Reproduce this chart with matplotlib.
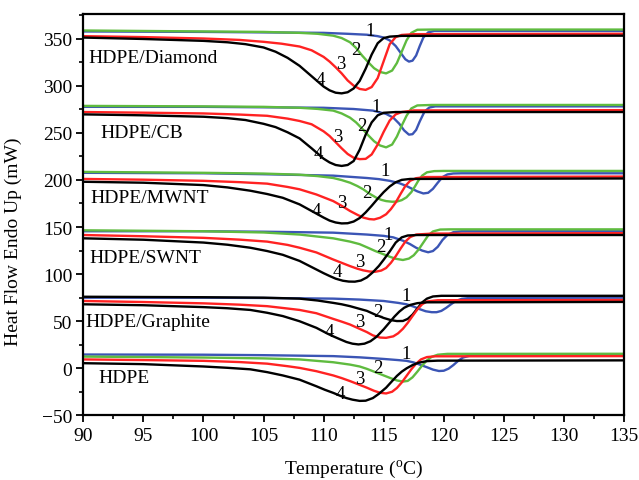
import matplotlib
matplotlib.use("Agg")
import matplotlib.pyplot as plt
from matplotlib.ticker import MultipleLocator

plt.rcParams['font.family'] = ['Liberation Serif', 'DejaVu Serif']
plt.rcParams['mathtext.fontset'] = 'custom'
plt.rcParams['mathtext.rm'] = 'Liberation Serif'

# DSC cooling scans, curves 1-4 for each sample (T in C, heat flow in mW)
dia1_t = [90, 100, 110, 112, 113.6, 114.5, 115, 115.5, 116, 116.4, 116.8, 117.1, 117.4, 117.7, 118, 118.3, 118.7, 119.2, 135]
dia1_y = [357.5, 357, 356, 355, 354, 352.5, 351, 348, 342, 335, 328, 325.5, 326.5, 332, 342, 351, 356.5, 358, 358]
dia2_t = [90, 100, 105, 108, 109.5, 110.8, 111.5, 112.2, 112.7, 113.2, 113.7, 114.2, 114.7, 115.2, 115.7, 116.1, 116.5, 116.9, 117.3, 117.8, 119, 135]
dia2_y = [358.5, 357.5, 357, 356, 355, 353, 350.5, 346, 340, 332, 325, 318.5, 314.5, 313, 316, 324, 336, 348, 356, 359.3, 359.5, 359.5]
dia3_t = [90, 95, 100, 103, 105, 106.5, 108, 109, 110, 110.5, 111, 111.5, 112, 112.5, 113, 113.5, 114, 114.5, 115, 115.5, 116, 116.5, 117.5, 135]
dia3_y = [352.5, 351.5, 350, 348.5, 346.5, 344.5, 341.5, 337.5, 330.5, 325.5, 319.5, 313, 305.5, 300, 296.5, 295.5, 298.5, 308, 326, 344, 351.5, 353.8, 354.6, 355]
dia4_t = [90, 95, 100, 102, 103.5, 105, 106, 107, 108, 109, 110, 110.5, 111, 111.5, 112, 112.5, 113, 113.5, 114, 114.5, 115, 115.5, 116.5, 135]
dia4_y = [351, 349.5, 347.5, 346, 344, 340.5, 336, 329.5, 321, 310, 299, 295, 292.5, 291.8, 293, 297, 305, 318, 333, 345, 350.5, 352, 352.8, 353]

cb1_t = [90, 100, 110, 112.5, 114.1, 115.2, 115.8, 116.3, 116.7, 117.1, 117.4, 117.7, 118, 118.4, 118.8, 119.3, 135]
cb1_y = [277.5, 277.5, 276.5, 275.2, 273.5, 270, 266, 259.5, 252.5, 248, 248.5, 253, 262, 272.5, 276.8, 278, 278]
cb2_t = [90, 100, 105, 108, 109.5, 110.8, 111.5, 112.2, 112.7, 113.2, 113.7, 114.2, 114.7, 115.2, 115.7, 116.1, 116.5, 116.9, 117.3, 117.8, 119, 135]
cb2_y = [278.5, 278, 277.5, 276.5, 275.3, 273.5, 270.5, 266, 261, 254.5, 247.5, 241, 236.5, 234.5, 237.5, 246, 257.5, 268, 275.8, 279, 279.5, 279.5]
cb3_t = [90, 95, 100, 103, 105.3, 107, 108, 109, 110, 110.5, 111, 111.5, 112, 112.5, 113, 113.5, 114, 114.5, 115, 115.5, 116, 116.5, 117.5, 135]
cb3_y = [272, 271.3, 270.5, 269.3, 268, 265, 262.5, 259, 251.5, 246.5, 240, 233.5, 227.5, 223.5, 222, 222.3, 227, 237.5, 251, 263, 269.5, 272, 273.7, 274]
cb4_t = [90, 95, 100, 102, 103.5, 105, 106, 107, 108, 109, 110, 110.5, 111, 111.5, 112, 112.5, 113, 113.5, 114, 114.5, 115, 116, 135]
cb4_y = [269.5, 268.5, 267, 265.5, 263.5, 259.5, 256, 250.5, 244, 233.5, 222.5, 218.5, 215.8, 214.8, 215.8, 220, 232, 248, 261, 268.5, 271.2, 272, 272]

mw1_t = [90, 100, 105, 110.8, 113.6, 114.6, 115.5, 116.3, 116.9, 117.4, 117.8, 118.3, 118.7, 119.1, 119.5, 119.9, 120.3, 120.8, 121.5, 135]
mw1_y = [207.5, 207, 206, 204.5, 202, 200.8, 199, 196.5, 193.5, 190.3, 187.8, 185.6, 186.3, 190.5, 197, 203, 205.8, 206.8, 207, 207]
mw2_t = [90, 100, 105, 108, 109.5, 110.8, 111.5, 112.2, 112.8, 113.3, 113.8, 114.4, 114.8, 115.2, 115.7, 116.1, 116.5, 116.9, 117.3, 117.6, 117.9, 118.2, 118.6, 119.2, 120, 135]
mw2_y = [208.5, 207.5, 206.7, 205.5, 204, 202, 199.8, 197, 193.5, 190, 185.5, 181, 178.8, 177.5, 176.8, 177, 178.5, 181.5, 187, 193, 199.5, 204.5, 208, 209.3, 209.5, 209.5]
mw3_t = [90, 95, 100, 103, 105.3, 107, 108, 109.4, 110.8, 111.5, 112.2, 112.8, 113.3, 113.8, 114.2, 114.7, 115.2, 115.6, 116, 116.4, 116.8, 117.2, 117.7, 118.5, 135]
mw3_y = [201, 200.2, 199, 197.6, 196, 192.5, 190, 184.5, 177.5, 172.5, 167, 163, 160, 158.4, 158, 159.8, 163.5, 169, 176, 185, 193.5, 199, 201.8, 203, 203.5]
mw4_t = [90, 95, 100, 102, 103.9, 105.3, 106.6, 108, 109, 110, 110.5, 111, 111.5, 112, 112.5, 113, 113.5, 114, 114.5, 115, 115.5, 116, 116.5, 117.2, 135]
mw4_y = [198, 197, 194.5, 192, 188.5, 185, 181, 174, 167, 160, 156.8, 154.8, 153.8, 154, 155.8, 159.5, 165.5, 172.5, 180, 187, 193, 197.5, 200, 201, 201.5]

sw1_t = [90, 100, 105, 110.8, 113.6, 115, 115.8, 116.6, 117.2, 117.7, 118.2, 118.7, 119.1, 119.5, 119.9, 120.3, 120.8, 121.5, 135]
sw1_y = [145.5, 145.5, 145, 144, 142, 140.6, 139, 135.5, 131.8, 128, 125, 123.2, 124.5, 129, 136.3, 141.5, 144.5, 145.5, 145.5]
sw2_t = [90, 100, 105, 108, 110.8, 112.2, 113, 113.6, 114.3, 115, 115.5, 116, 116.6, 117.1, 117.5, 117.9, 118.3, 118.7, 119.1, 119.7, 120.5, 135]
sw2_y = [146.5, 145.5, 144.2, 142, 138, 134.5, 131.8, 128.5, 124.5, 121, 118.5, 116.3, 115, 116.5, 120, 126, 133.5, 141, 145.3, 147.3, 147.5, 147.5]
sw3_t = [90, 95, 100, 103, 105.3, 107, 108, 109.4, 110.8, 111.5, 112.2, 112.8, 113.3, 113.8, 114.3, 114.8, 115.2, 115.6, 116, 116.4, 116.8, 117.2, 117.7, 119, 135]
sw3_y = [141.5, 140.2, 138.5, 136.6, 134.5, 131, 128, 123, 115.5, 112, 108.5, 105.8, 104, 102.8, 102.5, 103.8, 106.5, 112, 119, 127, 134.5, 139.3, 142, 143, 143.5]
sw4_t = [90, 95, 100, 102, 103.9, 105.3, 106.6, 108, 109, 110, 110.5, 111, 111.6, 112.1, 112.6, 113.1, 113.6, 114.1, 114.6, 115, 115.5, 116, 116.5, 117, 117.8, 135]
sw4_y = [138, 136.5, 133.5, 131.2, 128, 124.5, 120.5, 114, 107.5, 101, 98, 95.2, 93, 92.1, 92, 93.2, 96.5, 102, 108.7, 115.3, 124, 133.5, 139, 141, 141.5, 141.5]

gr1_t = [90, 100, 105, 110.8, 113, 115, 116.2, 116.9, 117.5, 118, 118.5, 119, 119.4, 119.8, 120.2, 120.6, 121, 121.5, 122.2, 135]
gr1_y = [75, 75, 74.7, 74, 73, 71.5, 69.5, 68, 65.5, 62.8, 60.6, 59.6, 59.6, 61, 64.2, 68, 71.5, 73.8, 74.8, 75]
gr2_t = [90, 100, 105, 108, 109.5, 110.8, 111.5, 112.2, 112.9, 113.6, 114.3, 115, 115.6, 116.1, 116.6, 117, 117.4, 117.8, 118.2, 118.6, 119.1, 119.8, 135]
gr2_y = [76, 75.5, 75, 74, 72, 69.5, 68, 66, 63.5, 61, 57, 53.5, 51.2, 50.2, 50.3, 52.5, 57, 63.5, 70, 74, 76.3, 77, 77]
gr3_t = [90, 95, 100, 103, 105.3, 107, 108, 109.4, 110.8, 111.5, 112.2, 112.9, 113.6, 114.1, 114.7, 115.2, 115.8, 116.2, 116.6, 117, 117.4, 117.8, 118.2, 118.6, 119.5, 135]
gr3_y = [71.5, 70.4, 69, 67.6, 66, 63.5, 62, 58.5, 52.5, 49.6, 46.5, 42.5, 38.5, 35, 32.7, 32.4, 34, 37.2, 42, 48.3, 55.5, 62.5, 68, 71, 72.3, 72.5]
gr4_t = [90, 95, 100, 102, 103.9, 105.3, 106.6, 108, 109.4, 110.3, 110.8, 111.4, 111.9, 112.4, 112.9, 113.4, 113.9, 114.4, 115, 115.5, 115.9, 116.3, 116.7, 117.2, 117.8, 118.6, 135]
gr4_y = [68, 67, 65, 63.8, 62, 59, 55.5, 50, 43, 37, 34, 30.7, 28, 26.2, 25.4, 26.2, 28.8, 33.5, 41.5, 49, 55, 60.2, 64.3, 67.3, 69.2, 70.1, 70.5]

pe1_t = [90, 100, 105, 110.8, 113, 115, 116.2, 116.9, 117.5, 118, 118.6, 119.1, 119.6, 120, 120.4, 120.8, 121.2, 121.6, 122.2, 123, 135]
pe1_y = [14.7, 14.5, 14, 13, 11.7, 10, 8.8, 8, 6.3, 4, 1.2, -1.3, -2.8, -2.5, -0.3, 3.5, 8, 11.5, 13.6, 14.3, 14.5]
pe2_t = [90, 95, 100, 105, 108, 110.8, 112.2, 113, 113.6, 114.3, 115, 115.6, 116.1, 116.6, 117, 117.4, 117.8, 118.2, 118.6, 119, 119.5, 120.3, 135]
pe2_y = [12.5, 12, 11.5, 10.6, 9.5, 6.5, 4, 2, -0.5, -4, -7.5, -10.5, -12.8, -14, -13.3, -9.5, -3.5, 3, 8.5, 12.3, 14.5, 15.4, 15.5]
pe3_t = [90, 95, 100, 103, 105.3, 107, 108, 109.4, 110.8, 111.5, 112.2, 112.9, 113.6, 114.2, 114.7, 115.2, 115.7, 116.1, 116.5, 116.9, 117.3, 117.7, 118.1, 118.6, 119.3, 135]
pe3_y = [9.5, 8.8, 8, 6.7, 5, 2.3, 0.5, -3, -7.5, -10.3, -13.5, -17, -20.5, -23.8, -25.9, -26.6, -24.8, -20.8, -15, -8, -1, 5, 9.5, 12, 12.8, 13]
pe4_t = [90, 95, 100, 102, 103.9, 105.3, 106.6, 108, 109.4, 110.1, 110.8, 111.4, 111.9, 112.4, 113, 113.5, 114.1, 114.6, 115.2, 115.7, 116.1, 116.5, 116.9, 117.4, 117.9, 118.6, 119.5, 135]
pe4_y = [5.5, 4.5, 2, 0.6, -1, -4, -7.5, -12, -19, -22.7, -26, -29.2, -31.5, -33.2, -34.5, -34.3, -31.5, -27, -20.5, -13.5, -8, -3.5, 0, 3.5, 6, 7.7, 8.2, 8.5]

sample_names = ["HDPE/Diamond", "HDPE/CB", "HDPE/MWNT", "HDPE/SWNT", "HDPE/Graphite", "HDPE"]
name_pos = [(90.4, 330), (91.4, 250), (90.55, 181), (90.5, 117.5), (90.15, 50), (91.25, -10)]

# where the curve numbers 1..4 sit for each sample
num_pos = [
    [(113.9, 358.3), (112.7, 338.8), (111.4, 323), (109.7, 307)],
    [(114.4, 278), (113.2, 258), (111.2, 246), (109.6, 228)],
    [(115.1, 209.5), (113.6, 186.6), (111.5, 176), (109.4, 167)],
    [(115.4, 142.2), (114.8, 129.8), (113.0, 113.9), (111.1, 103.2)],
    [(116.9, 77.4), (114.5, 60.8), (113, 49.5), (110.5, 39.5)],
    [(116.9, 15.8), (114.5, 0.6), (113, -11), (111.4, -26.7)],
]

blue = "#3b55b5"
green = "#5fbb3f"
red = "#ff2222"
black = "#000000"

groups = [
    [(dia1_t, dia1_y, blue), (dia2_t, dia2_y, green), (dia3_t, dia3_y, red), (dia4_t, dia4_y, black)],
    [(cb1_t, cb1_y, blue), (cb2_t, cb2_y, green), (cb3_t, cb3_y, red), (cb4_t, cb4_y, black)],
    [(mw1_t, mw1_y, blue), (mw2_t, mw2_y, green), (mw3_t, mw3_y, red), (mw4_t, mw4_y, black)],
    [(sw1_t, sw1_y, blue), (sw2_t, sw2_y, green), (sw3_t, sw3_y, red), (sw4_t, sw4_y, black)],
    [(gr1_t, gr1_y, blue), (gr2_t, gr2_y, black), (gr3_t, gr3_y, red), (gr4_t, gr4_y, black)],
    [(pe1_t, pe1_y, blue), (pe2_t, pe2_y, green), (pe3_t, pe3_y, red), (pe4_t, pe4_y, black)],
]

fig = plt.figure(figsize=(6.39, 4.81), dpi=100)
ax = fig.add_axes([0.1304, 0.1341, 0.8461, 0.8347])

for g, curves in enumerate(groups):
    for t, y, c in curves:
        ax.plot(t, y, color=c, lw=1.7, solid_joinstyle='round')
    for k, (tx, ty) in enumerate(num_pos[g]):
        ax.text(tx, ty, str(k + 1), fontsize=13.5, ha='center', va='center')
    ax.text(name_pos[g][0], name_pos[g][1], sample_names[g], fontsize=14, ha='left', va='center')

ax.set_xlim(90, 135)
ax.set_ylim(-50, 376)
ax.xaxis.set_major_locator(MultipleLocator(5))
ax.xaxis.set_minor_locator(MultipleLocator(2.5))
ax.yaxis.set_major_locator(MultipleLocator(50))
ax.yaxis.set_minor_locator(MultipleLocator(25))
ax.tick_params(which='major', direction='out', length=5, width=1.3, labelsize=14, pad=3)
ax.tick_params(which='minor', direction='out', length=3, width=1.2)
for s in ax.spines.values():
    s.set_linewidth(1.6)

ax.set_xlabel('Temperature ($\\mathregular{^{o}}$C)', fontsize=14, labelpad=10)
ax.set_ylabel('Heat Flow Endo Up (mW)', fontsize=14)
ax.yaxis.set_label_coords(-0.113, 0.435)

fig.savefig("out.png", dpi=100)
